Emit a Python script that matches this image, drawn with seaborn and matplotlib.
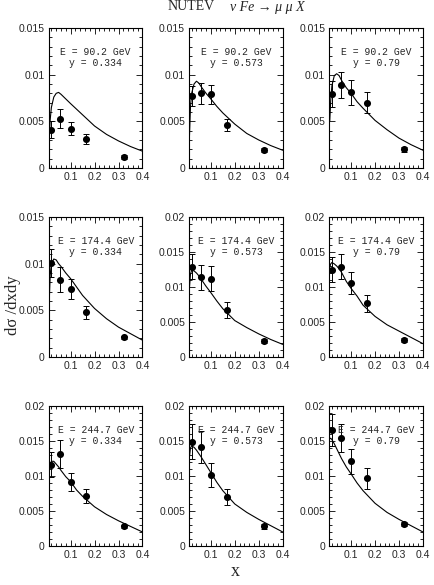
import matplotlib
matplotlib.use("Agg")
import matplotlib.pyplot as plt
from matplotlib.ticker import FixedLocator, MultipleLocator
import pandas as pd
import seaborn as sns

# --- Data
energies = ["90.2", "174.4", "244.7"]
y_values = ["0.334", "0.573", "0.79"]
x_data = [0.02, 0.057, 0.1, 0.166, 0.322]

# measured cross sections, one list per y value
sigma_e90 = [
    [0.0041, 0.0053, 0.0042, 0.0031, 0.0012],
    [0.0077, 0.0080, 0.0079, 0.0046, 0.0019],
    [0.0079, 0.0089, 0.0081, 0.0070, 0.0020],
]
sigma_e174 = [
    [0.0101, 0.0083, 0.0073, 0.0048, 0.0021],
    [0.0129, 0.0114, 0.0112, 0.0067, 0.0023],
    [0.0125, 0.0129, 0.0106, 0.0077, 0.0024],
]
sigma_e244 = [
    [0.0116, 0.0131, 0.0092, 0.0071, 0.0028],
    [0.0149, 0.0142, 0.0101, 0.0070, 0.0028],
    [0.0166, 0.0155, 0.0121, 0.0097, 0.0031],
]

# errors
err_e90 = [
    [0.0009, 0.0010, 0.0007, 0.0005, 0.0002],
    [0.0011, 0.0011, 0.0010, 0.0006, 0.0002],
    [0.0014, 0.0014, 0.0013, 0.0011, 0.0003],
]
err_e174 = [
    [0.0015, 0.0013, 0.0011, 0.0007, 0.0002],
    [0.0018, 0.0018, 0.0018, 0.0011, 0.0003],
    [0.0018, 0.0018, 0.0016, 0.0012, 0.0003],
]
err_e244 = [
    [0.0018, 0.0020, 0.0013, 0.0010, 0.0002],
    [0.0025, 0.0023, 0.0017, 0.0012, 0.0003],
    [0.0023, 0.0020, 0.0018, 0.0015, 0.0003],
]

# theory curves
curve_x = [0.011, 0.015, 0.02, 0.03, 0.04, 0.05, 0.06, 0.08, 0.1,
           0.125, 0.15, 0.2, 0.25, 0.3, 0.35, 0.4]
curve_e90 = [
    [0.0030, 0.0052, 0.0065, 0.0076, 0.0080, 0.0081, 0.0079, 0.0074,
     0.0069, 0.0063, 0.0057, 0.0045, 0.0036, 0.0029, 0.0023, 0.0018],
    [0.0035, 0.0065, 0.0080, 0.0090, 0.0093, 0.0091, 0.0087, 0.0080,
     0.0074, 0.0066, 0.0059, 0.0047, 0.0037, 0.0030, 0.0024, 0.0019],
    [0.0050, 0.0072, 0.0088, 0.0099, 0.0101, 0.0099, 0.0094, 0.0086,
     0.0080, 0.0071, 0.0064, 0.0051, 0.0041, 0.0032, 0.0025, 0.0019],
]
curve_e174 = [
    [0.0060, 0.0088, 0.0100, 0.0105, 0.0104, 0.0100, 0.0097, 0.0090,
     0.0084, 0.0075, 0.0066, 0.0052, 0.0041, 0.0032, 0.0025, 0.0018],
    [0.0100, 0.0118, 0.0124, 0.0123, 0.0120, 0.0116, 0.0111, 0.0101,
     0.0092, 0.0080, 0.0069, 0.0052, 0.0042, 0.0033, 0.0025, 0.0018],
    [0.0128, 0.0133, 0.0135, 0.0133, 0.0130, 0.0126, 0.0121, 0.0108,
     0.0098, 0.0087, 0.0074, 0.0058, 0.0046, 0.0037, 0.0028, 0.0019],
]
curve_e244 = [
    [0.0108, 0.0117, 0.0121, 0.0121, 0.0117, 0.0113, 0.0108, 0.0099,
     0.0092, 0.0080, 0.0071, 0.0056, 0.0045, 0.0036, 0.0028, 0.0020],
    [0.0128, 0.0140, 0.0143, 0.0141, 0.0137, 0.0132, 0.0127, 0.0116,
     0.0105, 0.0091, 0.0079, 0.0060, 0.0048, 0.0038, 0.0029, 0.0020],
    [0.0153, 0.0154, 0.0152, 0.0146, 0.0139, 0.0132, 0.0125, 0.0113,
     0.0103, 0.0090, 0.0079, 0.0061, 0.0048, 0.0038, 0.0029, 0.0020],
]

y_max = [[0.015, 0.015, 0.015], [0.015, 0.02, 0.02], [0.02, 0.02, 0.02]]

sigma_rows = [sigma_e90, sigma_e174, sigma_e244]
err_rows = [err_e90, err_e174, err_e244]
curve_rows = [curve_e90, curve_e174, curve_e244]

# %% Build long tables
points, curves = [], []
for i, e in enumerate(energies):
    for j, yv in enumerate(y_values):
        for x, s, d in zip(x_data, sigma_rows[i][j], err_rows[i][j]):
            points.append({"E": e, "y": yv, "x": x, "sigma": s, "err": d})
        for x, s in zip(curve_x, curve_rows[i][j]):
            curves.append({"E": e, "y": yv, "x": x, "sigma": s})
points_df = pd.DataFrame(points)
curves_df = pd.DataFrame(curves)

# %% Plot
sns.set_style("ticks")
plt.rcParams["font.family"] = ["Liberation Sans", "DejaVu Sans"]
mono = ["Liberation Mono", "DejaVu Sans Mono"]
serif = ["Liberation Serif", "DejaVu Serif"]

fig, axes = plt.subplots(3, 3, figsize=(4.35, 5.85), dpi=100)
fig.subplots_adjust(left=49 / 435, right=423 / 435, top=1 - 28 / 585,
                    bottom=1 - 546 / 585, wspace=0.5, hspace=0.35)

for i, e in enumerate(energies):
    for j, yv in enumerate(y_values):
        ax = axes[i, j]
        pts = points_df[(points_df["E"] == e) & (points_df["y"] == yv)]
        crv = curves_df[(curves_df["E"] == e) & (curves_df["y"] == yv)]

        sns.lineplot(data=crv, x="x", y="sigma", ax=ax, color="black",
                     linewidth=0.8, estimator=None, sort=False)
        ax.errorbar(pts["x"], pts["sigma"], yerr=pts["err"], fmt="none",
                    ecolor="black", elinewidth=0.7, capsize=2.2,
                    capthick=0.7)
        sns.scatterplot(data=pts, x="x", y="sigma", ax=ax, color="black",
                        s=26, edgecolor="black", linewidth=0, zorder=3)

        top = y_max[i][j]
        ax.set_xlim(0.01, 0.4)
        ax.set_ylim(0, top)
        ax.set_xlabel("")
        ax.set_ylabel("")

        ax.xaxis.set_major_locator(FixedLocator([0.1, 0.2, 0.3, 0.4]))
        ax.set_xticklabels(["0.1", "0.2", "0.3", "0.4"])
        ax.xaxis.set_minor_locator(MultipleLocator(0.02))
        yt = [0, 0.005, 0.01, 0.015, 0.02][: int(round(top / 0.005)) + 1]
        ax.yaxis.set_major_locator(FixedLocator(yt))
        ax.set_yticklabels([f"{v:g}" for v in yt])
        ax.yaxis.set_minor_locator(MultipleLocator(0.001))

        ax.tick_params(which="both", direction="in", top=True, right=True,
                       width=0.6, labelsize=7.5, pad=3, color="black")
        ax.tick_params(which="major", length=4)
        ax.tick_params(which="minor", length=2)
        for sp in ax.spines.values():
            sp.set_linewidth(0.8)
            sp.set_color("black")

        ax.text(0.5, 0.83, f"E = {e} GeV", transform=ax.transAxes,
                ha="center", va="center", fontsize=7, family=mono)
        ax.text(0.5, 0.75, f"y = {yv}", transform=ax.transAxes,
                ha="center", va="center", fontsize=7, family=mono)

fig.text(191 / 435, 1 - 7 / 585, "NUTEV", ha="center", va="center",
         fontsize=10, family=serif)
fig.text(230 / 435, 1 - 7 / 585, "\u03bd Fe \u2192 \u03bc \u03bc X",
         ha="left", va="center", fontsize=10, style="italic", family=serif)
fig.text(13 / 435, 1 - 305 / 585, "d\u03c3 /dxdy", rotation=90,
         ha="center", va="center", fontsize=12, family=serif)
fig.text(235 / 435, 1 - 572 / 585, "x", ha="center", va="center",
         fontsize=13, family=serif)

fig.savefig("out.png", dpi=100)
